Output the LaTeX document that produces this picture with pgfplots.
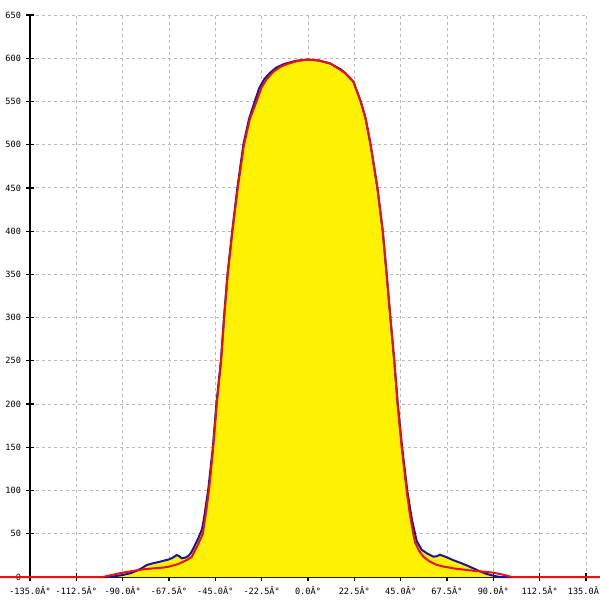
\documentclass[border=0pt]{standalone}
\usepackage{fontspec}
\setmonofont{DejaVu Sans Mono}
\usepackage{pgfplots}
\pgfplotsset{compat=1.18}
\definecolor{meas}{RGB}{20,20,165}
\definecolor{fitred}{RGB}{235,15,15}
\begin{document}
\begin{tikzpicture}
\begin{axis}[
  scale only axis,
  width=278pt, height=281pt,
  xmin=-135, xmax=135, ymin=0, ymax=650,
  axis x line=bottom, axis y line=left,
  axis line style={-, black, line width=0.6pt},
  clip=false,
  /pgf/number format/assume math mode=true,
  xtick={-135,-112.5,-90,-67.5,-45,-22.5,0,22.5,45,67.5,90,112.5,135},
  xticklabels={-135.0Â°,-112.5Â°,-90.0Â°,-67.5Â°,-45.0Â°,-22.5Â°,0.0Â°,22.5Â°,45.0Â°,67.5Â°,90.0Â°,112.5Â°,135.0Â°},
  ytick={0,50,...,650},
  tick align=center,
  major tick length=4pt,
  tick style={black, line width=0.6pt},
  xticklabel style={font=\ttfamily\fontsize{4.3}{5}\selectfont, yshift=1pt},
  yticklabel style={font=\ttfamily\fontsize{4.3}{5}\selectfont, xshift=1pt},
  grid=major,
  major grid style={gray!55, dash pattern=on 1.5pt off 1.5pt, line width=0.45pt},
]
\addplot[fill=yellow, draw=none] coordinates {
(-97.8,0) (-94,0.8) (-90,2.3) (-86,4.5) (-83.2,7.3) (-80.5,10.5) (-78.3,13.9) (-75,16) (-71.9,17.7) (-67.5,20.4) (-65.5,22.5) (-63.8,25.4) (-62.5,24) (-61.3,21.6) (-59.5,22.5) (-58.1,24.3) (-56.8,28) (-55.7,33) (-53.3,44.7) (-51.5,55) (-50.5,68) (-48.5,100) (-46.2,150) (-44.5,200) (-42.3,250) (-40.8,300) (-39.1,350) (-36.8,400) (-34.3,450) (-31.4,500) (-28.6,530) (-25.6,552) (-23.6,566) (-21.2,576) (-18.5,583) (-15.5,589) (-12,593) (-6,597) (0,598.5) (5,597.5) (10.7,594) (16,587) (18,583) (22,573) (25.6,550) (28,530) (30.4,500) (33.7,450) (36.3,400) (38.2,350) (40,300) (41.9,250) (43.6,200) (45.7,150) (48.2,100) (50.5,66) (52.8,41.5) (55.2,31.5) (58,27) (60.9,23.5) (62.5,24) (64.1,25.8) (65.5,24.5) (67.5,22.7) (70.5,19.5) (73.8,16.6) (77,13.5) (80.3,10) (83.5,6.5) (86.8,3.5) (90,1.5) (93.2,0)
} \closedcycle;
\addplot[meas, line width=1pt] coordinates {
(-97.8,0) (-94,0.8) (-90,2.3) (-86,4.5) (-83.2,7.3) (-80.5,10.5) (-78.3,13.9) (-75,16) (-71.9,17.7) (-67.5,20.4) (-65.5,22.5) (-63.8,25.4) (-62.5,24) (-61.3,21.6) (-59.5,22.5) (-58.1,24.3) (-56.8,28) (-55.7,33) (-53.3,44.7) (-51.5,55) (-50.5,68) (-48.5,100) (-46.2,150) (-44.5,200) (-42.3,250) (-40.8,300) (-39.1,350) (-36.8,400) (-34.3,450) (-31.4,500) (-28.6,530) (-25.6,552) (-23.6,566) (-21.2,576) (-18.5,583) (-15.5,589) (-12,593) (-6,597) (0,598.5) (5,597.5) (10.7,594) (16,587) (18,583) (22,573) (25.6,550) (28,530) (30.4,500) (33.7,450) (36.3,400) (38.2,350) (40,300) (41.9,250) (43.6,200) (45.7,150) (48.2,100) (50.5,66) (52.8,41.5) (55.2,31.5) (58,27) (60.9,23.5) (62.5,24) (64.1,25.8) (65.5,24.5) (67.5,22.7) (70.5,19.5) (73.8,16.6) (77,13.5) (80.3,10) (83.5,6.5) (86.8,3.5) (90,1.5) (93.2,0) (99,0)
};
\addplot[fitred, line width=1pt] coordinates {
(-149.6,0) (-99.5,0) (-95,2.5) (-90,5) (-85,7) (-80,8.9) (-75,10) (-70,11) (-67.5,12) (-63,15) (-59,19.5) (-56.5,23) (-54,35) (-52,45) (-51.1,50) (-49.5,75) (-48.1,100) (-46,150) (-44.3,200) (-42.2,250) (-40.7,300) (-39,350) (-36.7,400) (-34.1,450) (-31.1,500) (-28.2,530) (-25,550) (-22.6,566) (-20,576) (-17,584) (-13.5,590) (-10.4,593) (-5,597) (0,598.5) (5,597.5) (10.7,594) (18,583) (22,573) (25.6,550) (28,530) (30.4,500) (33.7,450) (36.3,400) (38.2,350) (40,300) (41.9,250) (43.5,200) (45.5,150) (47.9,100) (49.5,72) (51.1,50) (52,40) (54,30) (56,23.5) (59,18) (62.5,14) (66,12) (70.6,10) (75,8.7) (80.3,7.3) (85,6.2) (90,5) (95,2.5) (99,0) (141.8,0)
};
\end{axis}
\pgfresetboundingbox
\path (current axis.south west) ++(-15pt,-11.5pt) rectangle ++(300pt,300pt);
\end{tikzpicture}
\end{document}
